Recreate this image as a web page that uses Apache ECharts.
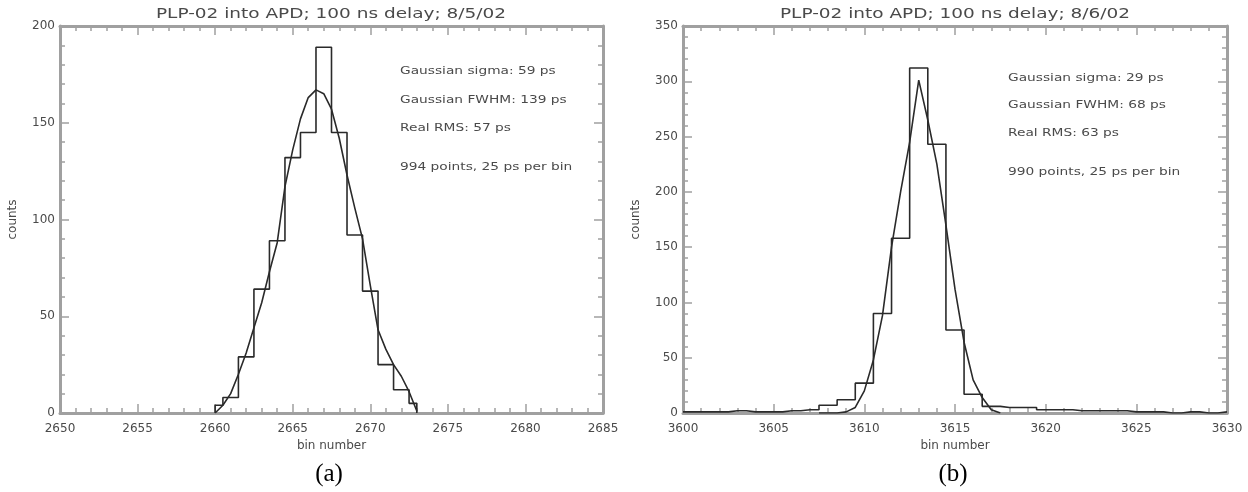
<!DOCTYPE html>
<html>
<head>
<meta charset="utf-8">
<script src="https://cdn.jsdelivr.net/npm/echarts@6/dist/echarts.min.js"></script>
<style>
  html, body { margin: 0; padding: 0; background: #fff; }
  #main { width: 1248px; height: 492px; }
</style>
</head>
<body>
<div id="main"></div>
<script>
// plot (a): bin centres and counts
var binsA = [2660, 2661, 2662, 2663, 2664, 2665, 2666, 2667, 2668, 2669, 2670, 2671, 2672, 2673];
var countsA = [4, 8, 29, 64, 89, 132, 145, 189, 145, 92, 63, 25, 12, 5];
// gaussian fit (a)
var fitXA = [2660, 2660.5, 2661, 2661.5, 2662, 2662.5, 2663, 2663.5, 2664, 2664.5, 2665, 2665.5, 2666, 2666.5, 2667, 2667.5, 2668, 2668.5, 2669, 2669.5, 2670, 2670.5, 2671, 2671.5, 2672, 2672.5, 2673];
var fitYA = [0, 4, 10, 20, 31, 44, 57, 73, 88, 117, 136, 152, 163, 167, 165, 157, 142, 123, 106, 90, 66, 43, 33, 25, 19, 11, 1];

// plot (b)
var binsB = [3600, 3601, 3602, 3603, 3604, 3605, 3606, 3607, 3608, 3609, 3610, 3611, 3612, 3613, 3614, 3615, 3616, 3617, 3618, 3619, 3620, 3621, 3622, 3623, 3624, 3625, 3626, 3627, 3628, 3629, 3630];
var countsB = [1, 1, 1, 2, 1, 1, 2, 3, 7, 12, 27, 90, 158, 312, 243, 75, 17, 6, 5, 5, 3, 3, 2, 2, 2, 1, 1, 0, 1, 0, 1];
var fitXB = [3607.5, 3608, 3608.5, 3609, 3609.5, 3610, 3610.5, 3611, 3611.5, 3612, 3612.5, 3613, 3613.5, 3614, 3614.5, 3615, 3615.5, 3616, 3616.5, 3617, 3617.5];
var fitYB = [0, 0, 0, 1, 5, 20, 48, 88, 150, 200, 245, 301, 265, 225, 170, 112, 64, 30, 14, 3, 0];

var titleText = ['PLP-02 into APD; 100 ns delay; 8/5/02', 'PLP-02 into APD; 100 ns delay; 8/6/02'];
var notesA = ['Gaussian sigma: 59 ps', 'Gaussian FWHM: 139 ps', 'Real RMS: 57 ps', '994 points, 25 ps per bin'];
var notesB = ['Gaussian sigma: 29 ps', 'Gaussian FWHM: 68 ps', 'Real RMS: 63 ps', '990 points, 25 ps per bin'];

var xRangeA = [2650, 2685], yRangeA = [0, 200];
var xRangeB = [3600, 3630], yRangeB = [0, 350];

function pairs(xs, ys) {
    return xs.map(function (x, i) { return [x, ys[i]]; });
}

var axisGray = '#a0a0a0';
var textGray = '#4a4a4a';
var lineDark = '#2a2a2a';
var fnt = 'DejaVu Sans';

function makeAxis(type, grid, range, interval, pos, showLabel, name) {
    var ax = {
        type: 'value',
        gridIndex: grid,
        position: pos,
        min: range[0],
        max: range[1],
        interval: interval,
        splitLine: { show: false },
        axisLine: { show: true, onZero: false, lineStyle: { color: axisGray, width: 3 } },
        axisTick: { show: true, inside: true, length: 9, lineStyle: { color: axisGray, width: 1.5 } },
        minorTick: { show: true, splitNumber: 5, length: 5, lineStyle: { color: axisGray, width: 1.5 } },
        axisLabel: {
            show: showLabel, color: textGray, fontSize: 12, fontFamily: fnt,
            margin: type === 'x' ? 10 : 5,
            formatter: function (v) { return String(v); }
        }
    };
    if (name) {
        ax.name = name;
        ax.nameLocation = 'middle';
        ax.nameTextStyle = { color: textGray, fontSize: 12, fontFamily: fnt };
        ax.nameGap = type === 'x' ? 25 : 41;
        if (type === 'y') ax.nameRotate = 90;
    }
    return ax;
}

var grids = [
    { left: 60, top: 26, width: 543, height: 387 },
    { left: 683, top: 26, width: 544, height: 387 }
];

var xAxes = [
    makeAxis('x', 0, xRangeA, 5, 'bottom', true, 'bin number'),
    makeAxis('x', 0, xRangeA, 5, 'top', false),
    makeAxis('x', 1, xRangeB, 5, 'bottom', true, 'bin number'),
    makeAxis('x', 1, xRangeB, 5, 'top', false)
];
var yAxes = [
    makeAxis('y', 0, yRangeA, 50, 'left', true, 'counts'),
    makeAxis('y', 0, yRangeA, 50, 'right', false),
    makeAxis('y', 1, yRangeB, 50, 'left', true, 'counts'),
    makeAxis('y', 1, yRangeB, 50, 'right', false)
];

function histSeries(xi, yi, data) {
    return {
        type: 'line', xAxisIndex: xi, yAxisIndex: yi, step: 'middle',
        data: data, showSymbol: false, symbol: 'none', animation: false,
        lineStyle: { color: lineDark, width: 1.6 }
    };
}
function fitSeries(xi, yi, data) {
    return {
        type: 'line', xAxisIndex: xi, yAxisIndex: yi,
        data: data, showSymbol: false, symbol: 'none', animation: false,
        lineStyle: { color: lineDark, width: 1.6 }
    };
}

var graphics = [];
// IDL vector font is wide: stretch the text horizontally
function notes(lines, x, ys) {
    lines.forEach(function (t, i) {
        graphics.push({
            type: 'text', x: x, y: ys[i], scaleX: 1.25,
            style: { text: t, fill: textGray, font: '11px ' + fnt, textAlign: 'left', textVerticalAlign: 'middle' }
        });
    });
}
notes(notesA, 400, [71, 100, 128, 167]);
notes(notesB, 1008, [78, 105, 133, 172]);
graphics.push({ type: 'text', x: 331, y: 14, scaleX: 1.32,
    style: { text: titleText[0], fill: textGray, font: '14px ' + fnt, textAlign: 'center', textVerticalAlign: 'middle' } });
graphics.push({ type: 'text', x: 955, y: 14, scaleX: 1.32,
    style: { text: titleText[1], fill: textGray, font: '14px ' + fnt, textAlign: 'center', textVerticalAlign: 'middle' } });
graphics.push({ type: 'text', x: 329, y: 474, style: { text: '(a)', fill: '#000', font: '25px "Liberation Serif"', textAlign: 'center', textVerticalAlign: 'middle' } });
graphics.push({ type: 'text', x: 953, y: 474, style: { text: '(b)', fill: '#000', font: '25px "Liberation Serif"', textAlign: 'center', textVerticalAlign: 'middle' } });

var myChart = echarts.init(document.getElementById('main'));
var option = {
    animation: false,
    backgroundColor: '#fff',
    grid: grids,
    xAxis: xAxes,
    yAxis: yAxes,
    series: [
        histSeries(0, 0, [[binsA[0], 0]].concat(pairs(binsA, countsA)).concat([[binsA[binsA.length - 1], 0]])),
        fitSeries(0, 0, pairs(fitXA, fitYA)),
        histSeries(2, 2, pairs(binsB, countsB)),
        fitSeries(2, 2, pairs(fitXB, fitYB))
    ],
    graphic: graphics
};
myChart.setOption(option);
</script>
</body>
</html>
